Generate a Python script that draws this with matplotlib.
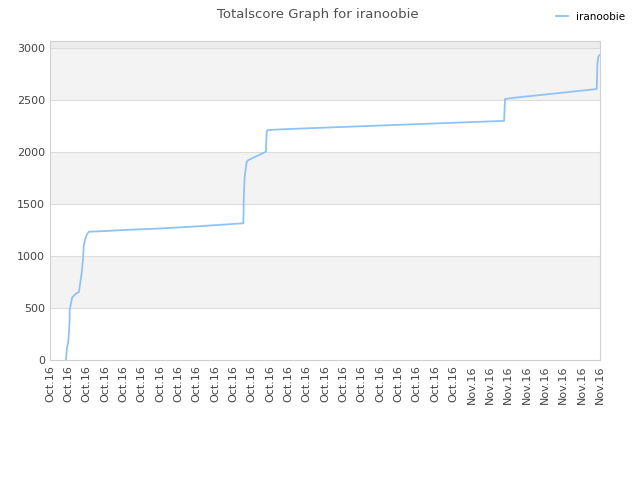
import matplotlib
matplotlib.use("Agg")
import matplotlib.pyplot as plt

# score readings (x in days from first tick, y = total score)
days = [0.873, 0.927, 0.998, 1.036, 1.075, 1.075, 1.184, 1.216, 1.40, 1.58, 1.65, 1.73,
        1.80, 1.84, 1.91, 2.02, 2.13, 3.0, 4.0, 6.0, 8.0, 10.55, 10.58, 10.62, 10.73,
        10.82, 11.78, 11.82, 11.87, 12.55, 15.0, 18.0, 21.0, 24.77, 24.82, 25.2,
        29.82, 29.86, 29.91, 29.97]
scores = [0, 112, 176, 256, 385, 480, 577, 603, 635, 654, 737, 833,
          962, 1090, 1154, 1211, 1234, 1240, 1250, 1265, 1285, 1315, 1600, 1760, 1905,
          1923, 2003, 2195, 2212, 2218, 2235, 2255, 2275, 2300, 2510, 2520,
          2606, 2853, 2917, 2933]

tick_labels = ["Oct.16"] * 23 + ["Nov.16"] * 8
series_name = "iranoobie"

fig = plt.figure(figsize=(6.4, 4.8), dpi=100)
ax = fig.add_axes([0.078, 0.25, 0.8595, 0.665])

ymax = 3070
# alternating bands
for lo in range(500, 3000, 1000):
    ax.axhspan(lo, lo + 500, color="#f3f3f3", zorder=0, lw=0)
ax.axhspan(3000, ymax, color="#ececec", zorder=0, lw=0)
for g in range(500, 3001, 500):
    ax.axhline(g, color="#dddddd", lw=0.8, zorder=1)

ax.plot(days, scores, color="#90c3f5", lw=1.3, label=series_name, zorder=3)

ax.set_xlim(0, len(tick_labels) - 1)
ax.set_ylim(0, ymax)
ax.set_xticks(range(len(tick_labels)))
ax.set_xticklabels(tick_labels, rotation=90, fontsize=8, color="#444444")
ax.set_yticks(range(0, 3001, 500))
ax.tick_params(axis="y", labelsize=8, colors="#444444", length=0)
ax.tick_params(axis="x", length=0, pad=4)
for s in ax.spines.values():
    s.set_color("#d0d0d0")

fig.text(0.497, 0.969, "Totalscore Graph for iranoobie", ha="center", va="center",
         fontsize=9.5, color="#505050")
fig.legend(loc="upper right", bbox_to_anchor=(0.992, 0.995), frameon=False,
           fontsize=7.5, handlelength=1.2)

fig.savefig("out.png", dpi=100)
